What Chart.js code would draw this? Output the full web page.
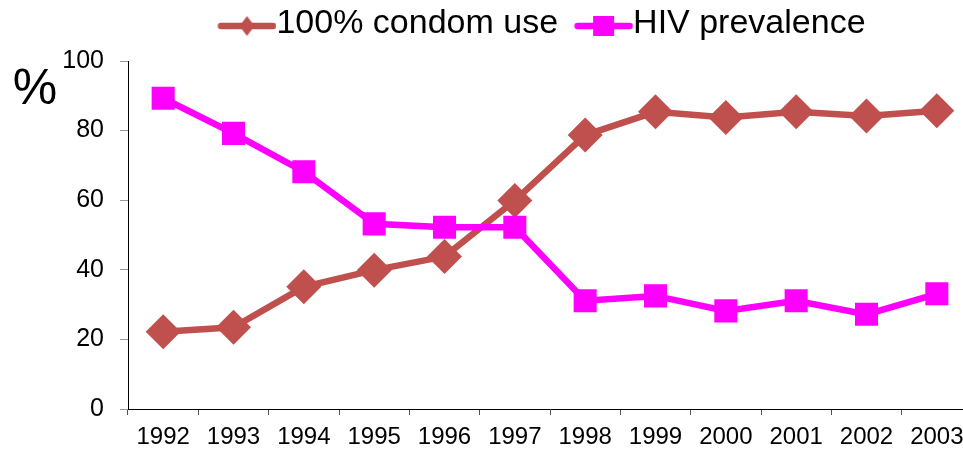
<!DOCTYPE html>
<html>
<head>
<meta charset="utf-8">
<script src="https://cdn.jsdelivr.net/npm/chart.js@4.4.1/dist/chart.umd.min.js"></script>
<style>
  html, body { margin: 0; padding: 0; overflow: hidden; background: #fff; }
  canvas { display: block; }
</style>
</head>
<body>
<canvas id="chart" width="1012" height="453"></canvas>
<script>
const years = ['1992', '1993', '1994', '1995', '1996', '1997', '1998', '1999', '2000', '2001', '2002', '2003'];
const condomUse = [22.2, 23.5, 35.1, 39.9, 43.8, 59.9, 78.7, 85.4, 83.8, 85.4, 84.2, 85.7];
const hivPrevalence = [89.3, 79.2, 68.2, 53.2, 52.2, 52.2, 31.1, 32.5, 28.2, 31.1, 27.2, 33.1];
const seriesNames = ['100% condom use', 'HIV prevalence'];

const brown = '#C0504D';
const magenta = '#FF00FF';

Chart.defaults.font.family = '"Liberation Sans", Arial, sans-serif';
Chart.defaults.color = '#000';

// legend swatch: line with marker, drawn in the right part of a wider image
function legendIcon(color, shape) {
  const c = document.createElement('canvas');
  c.width = 87;
  c.height = 38;
  const ctx = c.getContext('2d');
  const x0 = 28, x1 = 87, cy = 21;
  ctx.strokeStyle = color;
  ctx.lineWidth = 6.5;
  ctx.lineCap = 'round';
  ctx.beginPath();
  ctx.moveTo(x0 + 3.5, cy);
  ctx.lineTo(x1 - 3.5, cy);
  ctx.stroke();
  const cx = (x0 + x1) / 2;
  ctx.fillStyle = color;
  if (shape === 'diamond') {
    ctx.beginPath();
    ctx.moveTo(cx, cy - 10);
    ctx.lineTo(cx + 7.5, cy);
    ctx.lineTo(cx, cy + 10);
    ctx.lineTo(cx - 7.5, cy);
    ctx.closePath();
    ctx.fill();
  } else {
    ctx.fillRect(cx - 10.5, cy - 10, 21, 20);
  }
  return c;
}
const icons = [legendIcon(brown, 'diamond'), legendIcon(magenta, 'square')];

const percentLabel = {
  id: 'percentLabel',
  afterDraw(chart) {
    const {ctx, chartArea} = chart;
    ctx.save();
    ctx.font = '50px "Liberation Sans", Arial, sans-serif';
    ctx.fillStyle = '#000';
    ctx.textAlign = 'center';
    ctx.textBaseline = 'middle';
    ctx.fillText('%', chartArea.left - 93, chartArea.top + 29);
    ctx.restore();
  }
};

new Chart(document.getElementById('chart'), {
  type: 'line',
  data: {
    labels: years,
    datasets: [
      {
        label: seriesNames[0],
        data: condomUse,
        borderColor: brown,
        backgroundColor: brown,
        borderWidth: 6.5,
        pointStyle: 'rectRot',
        pointRadius: 17.5,
        pointHoverRadius: 17.5,
        pointBorderWidth: 0,
        fill: false,
        tension: 0,
        order: 1,
      },
      {
        label: seriesNames[1],
        data: hivPrevalence,
        borderColor: magenta,
        backgroundColor: magenta,
        borderWidth: 6.5,
        pointStyle: 'rect',
        pointRadius: 16.3,
        pointHoverRadius: 16.3,
        pointBorderWidth: 0,
        fill: false,
        tension: 0,
        order: 0,
      },
    ],
  },
  options: {
    responsive: false,
    animation: false,
    devicePixelRatio: 1,
    layout: {
      padding: { left: 60, right: 0, top: 2, bottom: 0 },
    },
    plugins: {
      tooltip: { enabled: false },
      title: {
        display: true,
        text: '',
        weight: 500,
        padding: 0,
        font: { size: 10, lineHeight: 1 },
      },
      legend: {
        position: 'top',
        labels: {
          usePointStyle: true,
          pointStyleWidth: 53,
          padding: 5,
          font: { size: 34 },
          color: '#000',
          sort: (a, b) => a.datasetIndex - b.datasetIndex,
          generateLabels: (chart) => {
            const items = Chart.defaults.plugins.legend.labels.generateLabels(chart);
            return items.map((item) => ({ ...item, pointStyle: icons[item.datasetIndex] }));
          },
        },
      },
    },
    scales: {
      x: {
        type: 'category',
        offset: true,
        afterFit: (scale) => { scale.height = 44; },
        grid: {
          offset: true,
          drawOnChartArea: false,
          drawTicks: true,
          tickLength: 6,
          color: '#555',
        },
        border: { display: true, color: '#000', width: 1 },
        ticks: {
          padding: 8,
          maxRotation: 0,
          autoSkip: false,
          font: { size: 24 },
          color: '#000',
        },
      },
      y: {
        min: 0,
        max: 100,
        afterFit: (scale) => { scale.width = 68; },
        grid: {
          drawOnChartArea: false,
          drawTicks: true,
          tickLength: 8,
          color: '#999',
        },
        border: { display: true, color: '#000', width: 1 },
        ticks: {
          stepSize: 20,
          padding: 16,
          font: { size: 25 },
          color: '#000',
        },
      },
      // empty spacer on the right so the plot runs past the window edge like the original
      spacer: {
        type: 'linear',
        position: 'right',
        afterFit: (scale) => { scale.width = 40; },
        grid: { display: false },
        border: { display: false },
        ticks: { display: false },
      },
    },
  },
  plugins: [percentLabel],
});
</script>
</body>
</html>
